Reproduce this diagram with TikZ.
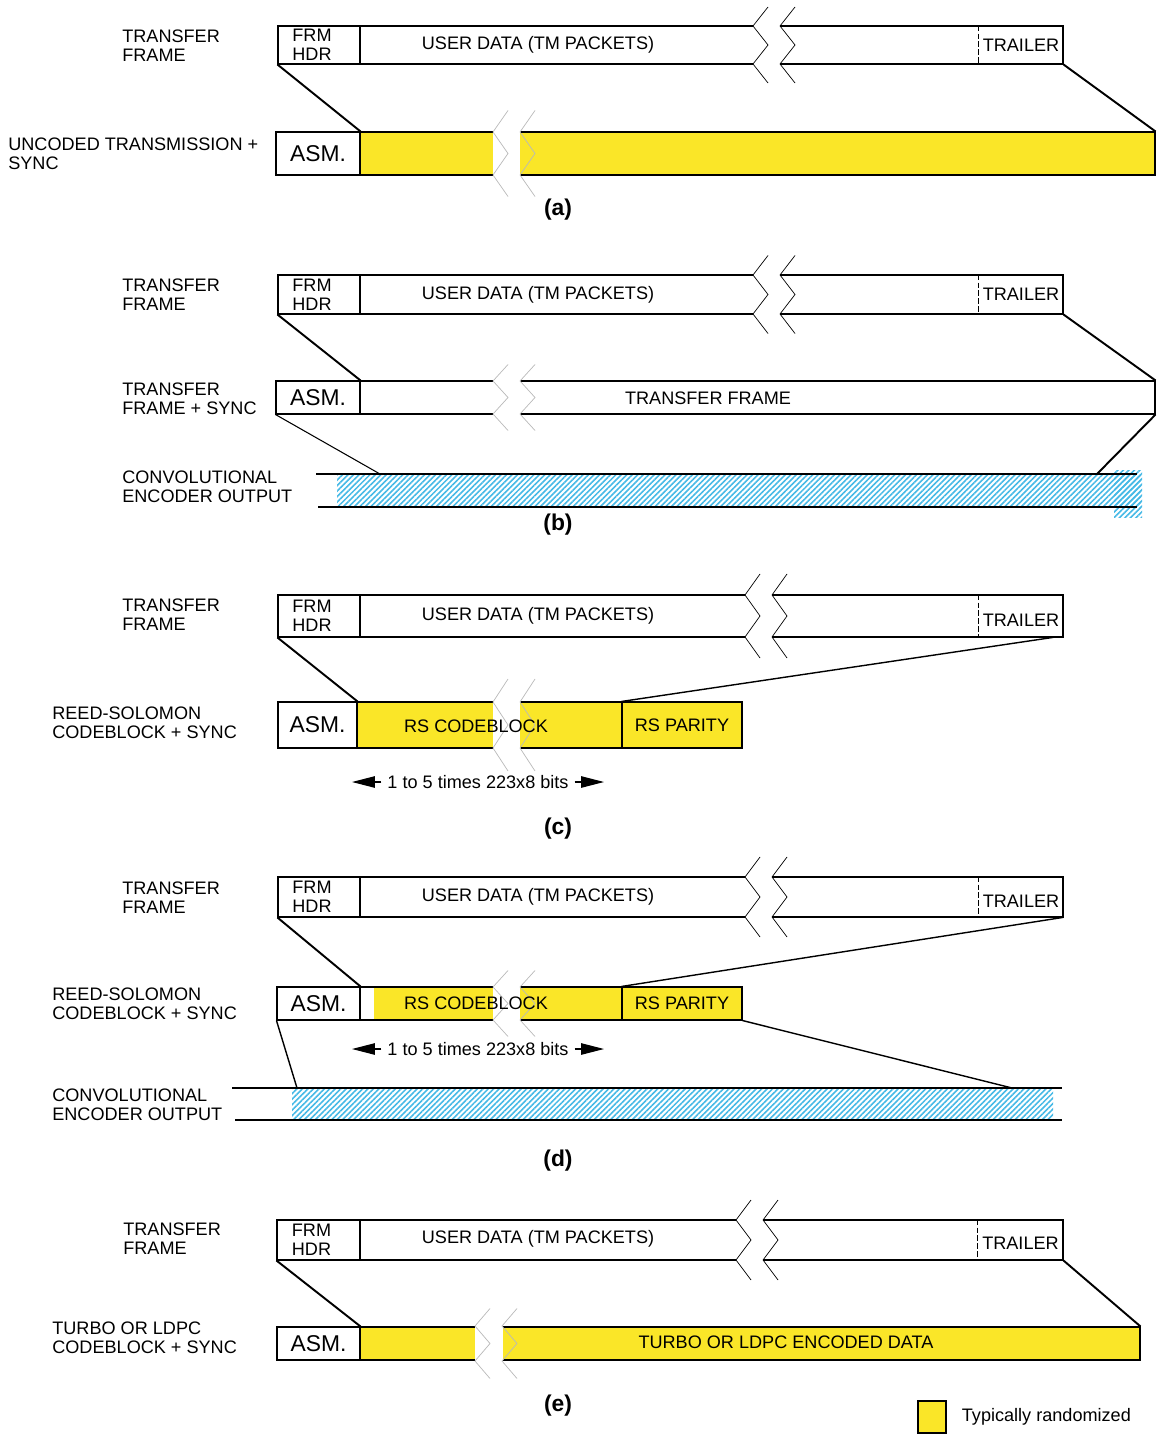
\documentclass[tikz,border=0pt]{standalone}
\usepackage{fontspec}
\setmainfont{Liberation Sans}
\usetikzlibrary{positioning,arrows.meta,fit,calc,patterns.meta}
\definecolor{ydata}{RGB}{250,230,40}
\definecolor{hatchblue}{RGB}{70,185,230}
\definecolor{brkgray}{RGB}{185,185,185}

\begin{document}
\begin{tikzpicture}[
    x=0.02cm, y=-0.02cm,
    font=\fontsize{10.3}{10.8}\selectfont,
    cell/.style={draw, inner sep=0pt, line width=0.6pt},
    ybar/.style={cell, fill=ydata},
    hatch/.style={inner sep=0pt, pattern={Lines[angle=45,distance=2.2pt,line width=0.9pt]}, pattern color=hatchblue},
    lbl/.style={anchor=west, align=left, inner sep=0pt},
    txt/.style={align=left, inner sep=0pt},
    asm/.style={font=\fontsize{13}{15}\selectfont},
    tag/.style={font=\fontsize{13}{15}\selectfont\bfseries},
    conn/.style={line width=1.1pt},
    edge/.style={line width=0.8pt},
    rng/.style={-{Triangle[length=13pt,width=6.5pt]}, line width=0.6pt},
    pics/brk/.style={code={
        \draw (15,-2*#1) -- (0,-#1) -- (15,0) -- (0,#1) -- (15,2*#1);
        \draw (42,-2*#1) -- (27,-#1) -- (42,0) -- (27,#1) -- (42,2*#1);
    }}
]
    \useasboundingbox (0,0) rectangle (1156,1435);

    % (a) uncoded
    \node[cell, fit={(278,26) (1063,64)}] (frA) {};
    \node[cell, fit={(278,26) (360,64)}] (hdrA) {};
    \node[txt] at ($(hdrA)+(-7,0)$) {FRM\\HDR};
    \node[inner sep=0pt, fit={(979,26) (1063,64)}] (trlA) {};
    \node[txt] at (trlA) {TRAILER};
    \draw[dash pattern=on 3pt off 1.5pt] (trlA.north west) -- (trlA.south west);
    \node (udA) at (538,45) {USER DATA (TM PACKETS)};
    \fill[white] (753,24) rectangle (780,66);
    \pic at (753,45) {brk=19};

    \node[cell, fit={(276,132) (360,175)}] (asmA) {};
    \node[asm] at (asmA) {ASM.};
    \node[ybar, fit={(360,132) (1155,175)}] (datA) {};
    \fill[white] (493,130) rectangle (520,177);
    \pic[brkgray] at (493,153.5) {brk=21.5};
    \draw[conn] (hdrA.south west) -- (asmA.north east);
    \draw[conn] (frA.south east) -- (datA.north east);

    \node[lbl] (ttlA) at (122,45.5) {TRANSFER\\FRAME};
    \node[lbl] (encA) at (8,153.5) {UNCODED TRANSMISSION +\\SYNC};
    \node[tag] (capA) at (558,210) {(a)};

    % (b) convolutional
    \node[cell, fit={(278,275) (1063,314)}] (frB) {};
    \node[cell, fit={(278,275) (360,314)}] (hdrB) {};
    \node[txt] at ($(hdrB)+(-7,0)$) {FRM\\HDR};
    \node[inner sep=0pt, fit={(979,275) (1063,314)}] (trlB) {};
    \node[txt] at (trlB) {TRAILER};
    \draw[dash pattern=on 3pt off 1.5pt] (trlB.north west) -- (trlB.south west);
    \node (udB) at (538,294.5) {USER DATA (TM PACKETS)};
    \fill[white] (753,273) rectangle (780,316);
    \pic at (753,294.5) {brk=19.5};

    \node[cell, fit={(276,381) (360,414)}] (asmB) {};
    \node[asm] at (asmB) {ASM.};
    \node[cell, fit={(360,381) (1155,414)}] (datB) {};
    \fill[white] (493,379) rectangle (520,416);
    \pic[brkgray] at (493,397.5) {brk=16.5};
    \node (tfB) at (708,398) {TRANSFER FRAME};
    \draw[conn] (hdrB.south west) -- (asmB.north east);
    \draw[conn] (frB.south east) -- (datB.north east);

    \node[hatch, fit={(337,474) (1141,507)}] (cnvB) {};
    \path[hatch] (1114,470) rectangle (1142,517);
    \draw[edge] (316,474) -- (1137,474);
    \draw[edge] (318,507) -- (1137,507);
    \coordinate (cBl) at (380,474);
    \coordinate (cBr) at (1097,474);
    \draw[line width=0.6pt] (asmB.south west) -- (cBl);
    \draw[conn] (datB.south east) -- (cBr);

    \node[lbl] (ttlB) at (122,294.5) {TRANSFER\\FRAME};
    \node[lbl] (encB) at (122,398.5) {TRANSFER\\FRAME + SYNC};
    \node[lbl] (cvlB) at (122,486.5) {CONVOLUTIONAL\\ENCODER OUTPUT};
    \node[tag] (capB) at (558,525) {(b)};

    % (c) reed-solomon
    \node[cell, fit={(278,595) (1063,637)}] (frC) {};
    \node[cell, fit={(278,595) (360,637)}] (hdrC) {};
    \node[txt] at ($(hdrC)+(-7,0)$) {FRM\\HDR};
    \node[inner sep=0pt, fit={(979,595) (1063,637)}] (trlC) {};
    \node[txt] at ($(trlC)+(0,4)$) {TRAILER};
    \draw[dash pattern=on 3pt off 1.5pt] (trlC.north west) -- (trlC.south west);
    \node (udC) at (538,616) {USER DATA (TM PACKETS)};
    \fill[white] (745,593) rectangle (772,639);
    \pic at (745,616) {brk=21};

    \node[cell, fit={(278,702) (357,748)}] (asmC) {};
    \node[asm] at (asmC) {ASM.};
    \node[ybar, fit={(357,702) (622,748)}] (rsC) {};
    \node[ybar, fit={(622,702) (742,748)}] (parC) {};
    \node[txt] at (parC) {RS PARITY};
    \fill[white] (493,700) rectangle (520,750);
    \pic[brkgray] at (493,725) {brk=23};
    \node (cbC) at (476,726) {RS CODEBLOCK};
    \draw[conn] (hdrC.south west) -- (asmC.north east);
    \draw[edge] ($(trlC.south east)+(-10,0)$) -- (parC.north west);

    \node (rngC) at (478,782) {1 to 5 times 223x8 bits};
    \coordinate (rngCl) at (352,782);
    \coordinate (rngCr) at (604,782);
    \draw[rng] (rngC.west) -- (rngCl);
    \draw[rng] (rngC.east) -- (rngCr);

    \node[lbl] (ttlC) at (122,615) {TRANSFER\\FRAME};
    \node[lbl] (encC) at (52,722.5) {REED-SOLOMON\\CODEBLOCK + SYNC};
    \node[tag] (capC) at (558,829) {(c)};

    % (d) reed-solomon + convolutional
    \node[cell, fit={(278,877) (1063,917)}] (frD) {};
    \node[cell, fit={(278,877) (360,917)}] (hdrD) {};
    \node[txt] at ($(hdrD)+(-7,0)$) {FRM\\HDR};
    \node[inner sep=0pt, fit={(979,877) (1063,917)}] (trlD) {};
    \node[txt] at ($(trlD)+(0,4)$) {TRAILER};
    \draw[dash pattern=on 3pt off 1.5pt] (trlD.north west) -- (trlD.south west);
    \node (udD) at (538,897) {USER DATA (TM PACKETS)};
    \fill[white] (745,875) rectangle (772,919);
    \pic at (745,897) {brk=20};

    \node[cell, fit={(277,987) (360,1020)}] (asmD) {};
    \node[asm] at (asmD) {ASM.};
    \node[ybar, fit={(360,987) (622,1020)}] (rsD) {};
    \fill[white] (361,988) rectangle (374,1019);
    \node[ybar, fit={(622,987) (742,1020)}] (parD) {};
    \node[txt] at (parD) {RS PARITY};
    \fill[white] (493,985) rectangle (520,1022);
    \pic[brkgray] at (493,1003.5) {brk=16.5};
    \node (cbD) at (476,1003) {RS CODEBLOCK};
    \draw[conn] (hdrD.south west) -- (asmD.north east);
    \draw[edge] (trlD.south east) -- (parD.north west);

    \node (rngD) at (478,1049) {1 to 5 times 223x8 bits};
    \coordinate (rngDl) at (352,1049);
    \coordinate (rngDr) at (604,1049);
    \draw[rng] (rngD.west) -- (rngDl);
    \draw[rng] (rngD.east) -- (rngDr);

    \node[hatch, fit={(292,1088) (1053,1118)}] (cnvD) {};
    \draw[edge] (232,1088) -- (1062,1088);
    \draw[edge] (235,1120) -- (1062,1120);
    \coordinate (cDl) at (297,1088);
    \coordinate (cDr) at (1012,1088);
    \draw[edge] (asmD.south west) -- (cDl);
    \draw[edge] (parD.south east) -- (cDr);

    \node[lbl] (ttlD) at (122,898) {TRANSFER\\FRAME};
    \node[lbl] (encD) at (52,1004) {REED-SOLOMON\\CODEBLOCK + SYNC};
    \node[lbl] (cvlD) at (52,1105) {CONVOLUTIONAL\\ENCODER OUTPUT};
    \node[tag] (capD) at (558,1161) {(d)};

    % (e) turbo / ldpc
    \node[cell, fit={(277,1220) (1063,1260)}] (frE) {};
    \node[cell, fit={(277,1220) (360,1260)}] (hdrE) {};
    \node[txt] at ($(hdrE)+(-7,0)$) {FRM\\HDR};
    \node[inner sep=0pt, fit={(978,1220) (1063,1260)}] (trlE) {};
    \node[txt] at ($(trlE)+(0,3)$) {TRAILER};
    \draw[dash pattern=on 3pt off 1.5pt] (trlE.north west) -- (trlE.south west);
    \node (udE) at (538,1239) {USER DATA (TM PACKETS)};
    \fill[white] (736,1218) rectangle (763,1262);
    \pic at (736,1240) {brk=20};

    \node[cell, fit={(277,1327) (360,1360)}] (asmE) {};
    \node[asm] at (asmE) {ASM.};
    \node[ybar, fit={(360,1327) (1140,1360)}] (datE) {};
    \fill[white] (475,1325) rectangle (503,1362);
    \pic[brkgray] at (475,1343.5) {brk=17.5};
    \node (tdE) at (786,1342) {TURBO OR LDPC ENCODED DATA};
    \draw[conn] (hdrE.south west) -- (asmE.north east);
    \draw[conn] (frE.south east) -- (datE.north east);

    \node[lbl] (ttlE) at (123,1239) {TRANSFER\\FRAME};
    \node[lbl] (encE) at (52,1337.5) {TURBO OR LDPC\\CODEBLOCK + SYNC};
    \node[tag] (capE) at (558,1406) {(e)};

    % key
    \node[ybar, fit={(918,1401) (946,1433)}] (keyY) {};
    \node[inner sep=0pt, right=0.3cm of keyY] (keyT) {Typically randomized};
\end{tikzpicture}
\end{document}
